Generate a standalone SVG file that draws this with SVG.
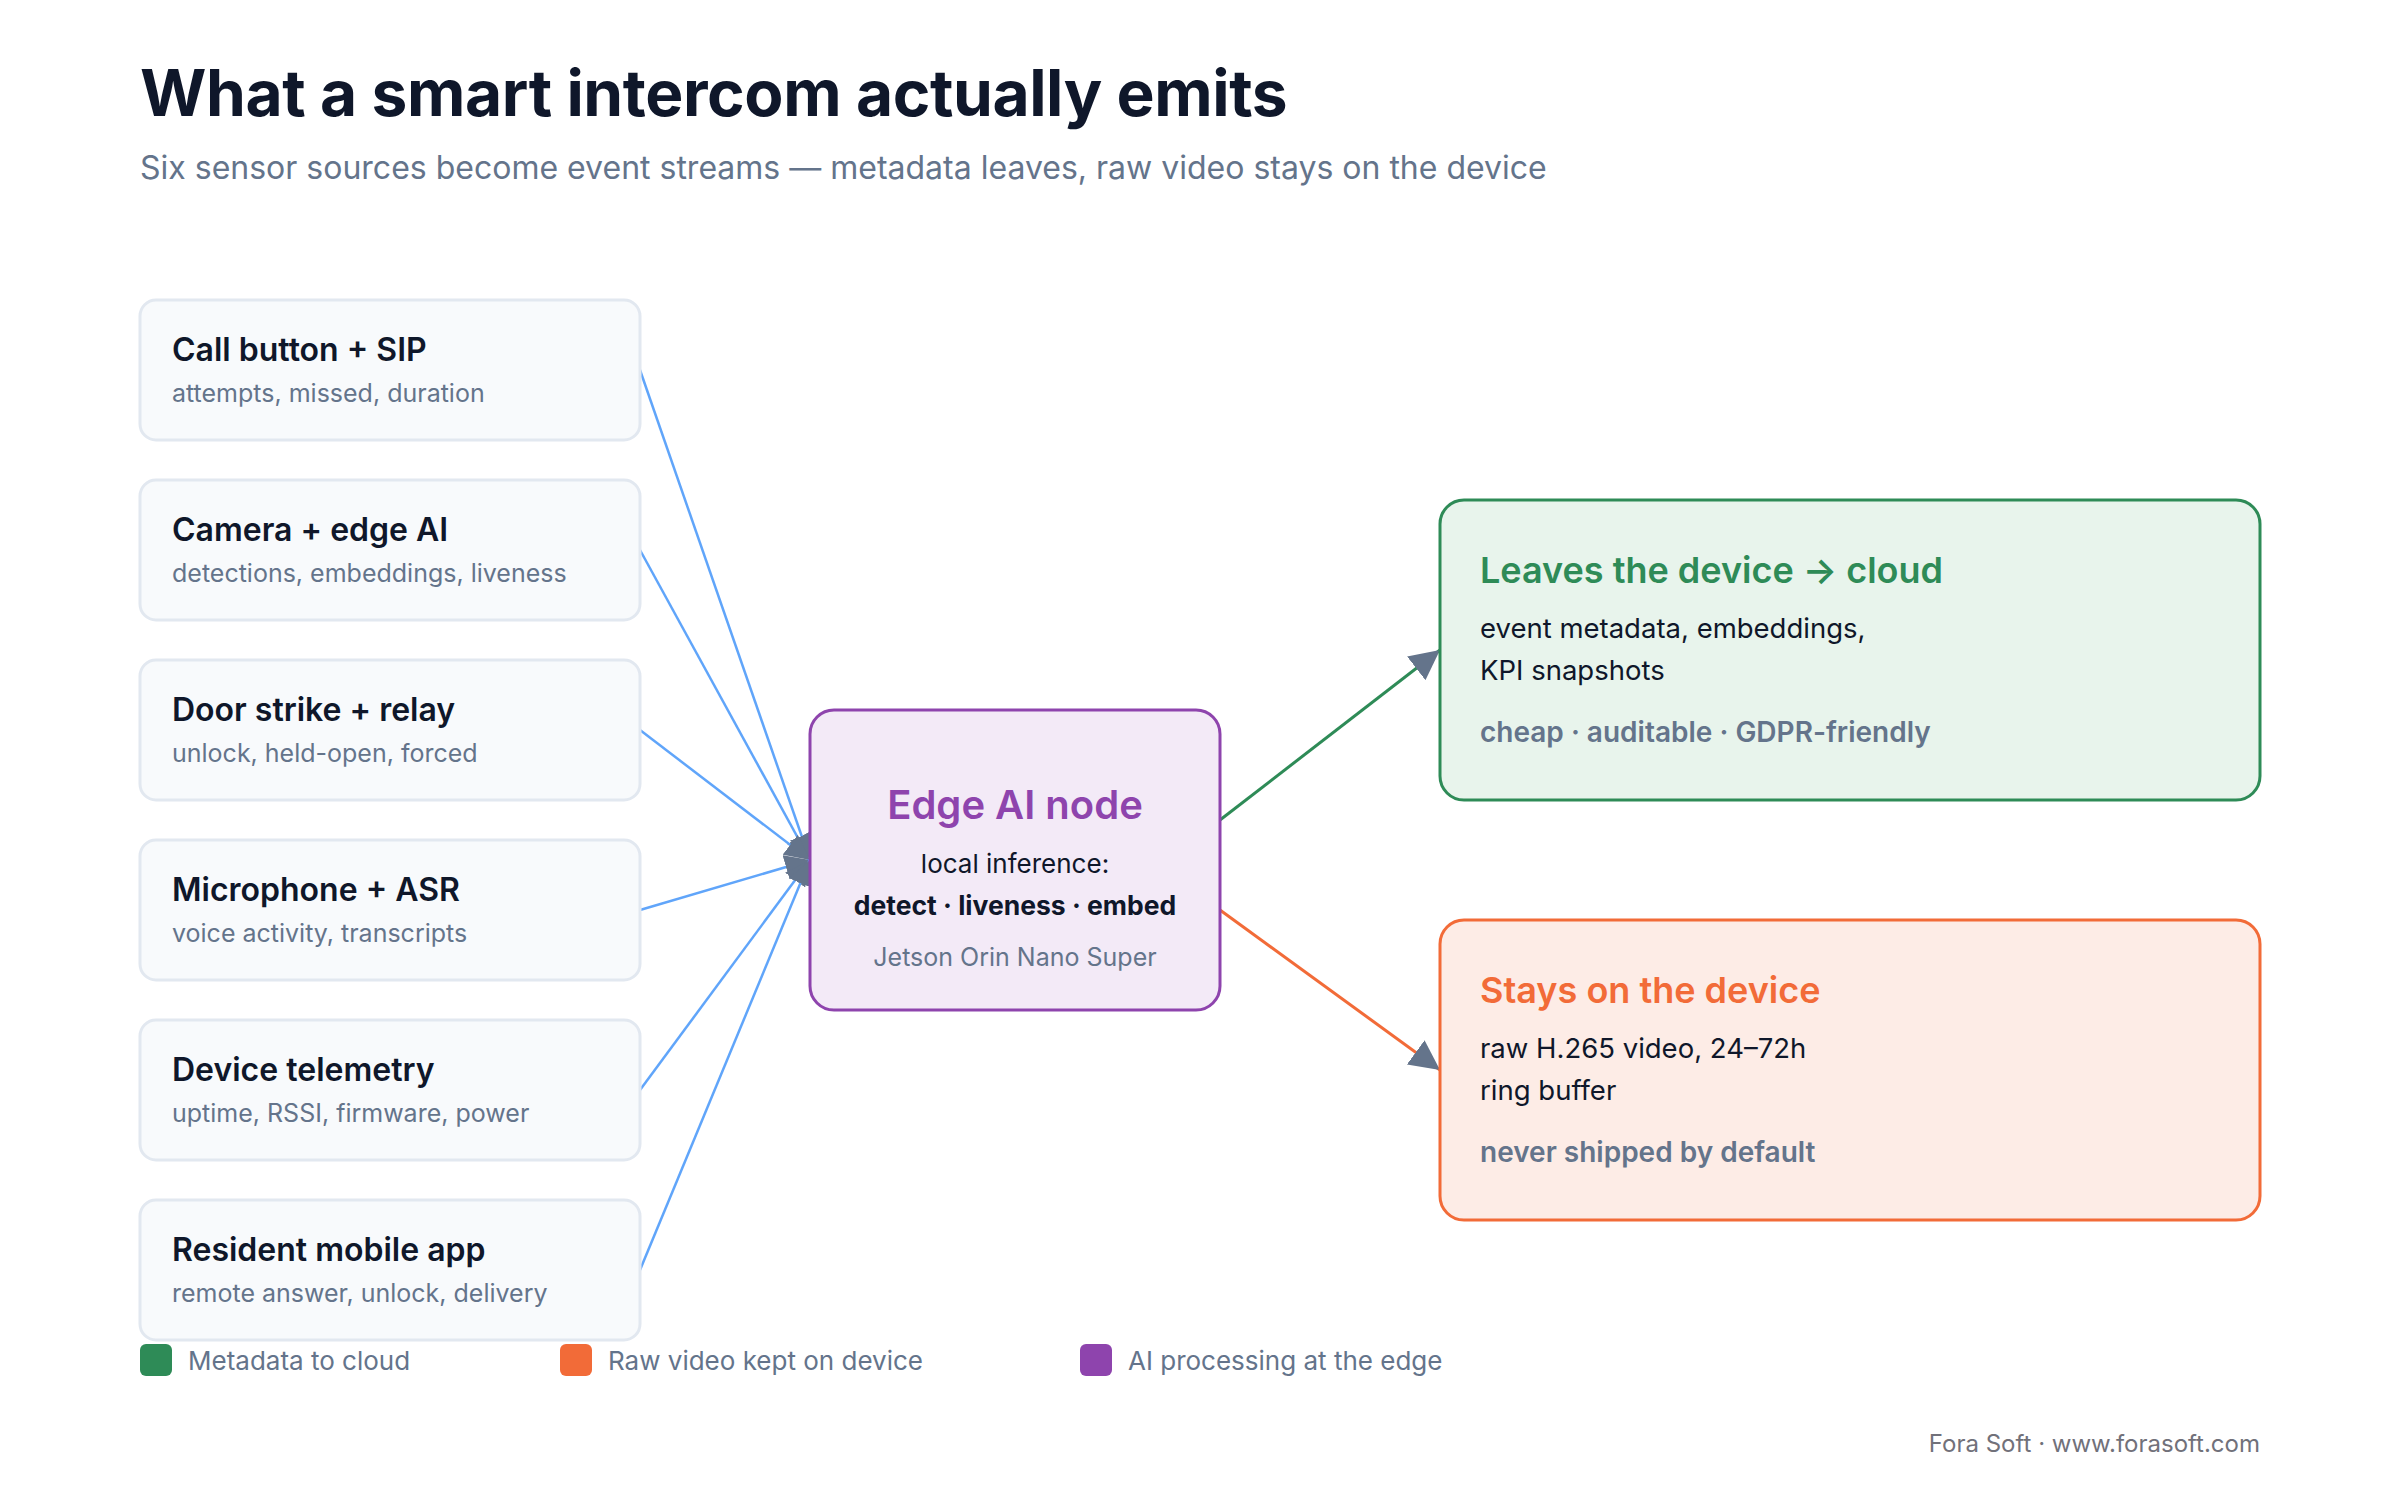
<svg xmlns="http://www.w3.org/2000/svg" width="2400" height="1496" viewBox="0 0 2400 1496">
<style>
text{font-family:Inter,"Noto Sans","Liberation Sans",sans-serif}
.title{font-size:64px;font-weight:700;fill:#0f172a;letter-spacing:-0.4px}
.subtitle{font-size:32px;fill:#64748b}
.src rect{fill:#f8fafc;stroke:#e2e8f0;stroke-width:3}
.src .h{font-size:32px;font-weight:600;fill:#0f172a}
.src .s{font-size:25px;fill:#64748b}
.edge .h{font-size:40px;font-weight:600;fill:#8e44ad}
.body{font-size:26px;fill:#0f172a}
.bodyb{font-size:26.5px;font-weight:700;fill:#0f172a}
.muted{font-size:25px;fill:#64748b}
.obody{font-size:27.5px;fill:#0f172a}
.tag{font-size:28px;font-weight:600;fill:#64748b}
.out .h{font-size:36px;font-weight:600}
.legend text{font-size:26px;fill:#64748b}
.footer{font-size:24px;fill:#71717a}
.in{stroke:#60a5fa;stroke-width:2.5;fill:none;marker-end:url(#arr)}
</style>
<defs>
<marker id="arr" viewBox="0 0 10 10" refX="10" refY="5" markerWidth="10" markerHeight="10" orient="auto" markerUnits="strokeWidth">
<path d="M0,0 L10,5 L0,10 z" fill="#64748b"/>
</marker>
</defs>
<rect width="2400" height="1496" fill="#ffffff"/>
<text class="title" x="140" y="116">What a smart intercom actually emits</text>
<text class="subtitle" x="140" y="179">Six sensor sources become event streams — metadata leaves, raw video stays on the device</text>

<g id="connectors">
<line class="in" x1="640" y1="370" x2="810" y2="860"/>
<line class="in" x1="640" y1="550" x2="810" y2="860"/>
<line class="in" x1="640" y1="730" x2="810" y2="860"/>
<line class="in" x1="640" y1="910" x2="810" y2="860"/>
<line class="in" x1="640" y1="1090" x2="810" y2="860"/>
<line class="in" x1="640" y1="1270" x2="810" y2="860"/>
<line x1="1220" y1="820" x2="1440" y2="650" stroke="#2e8b57" stroke-width="3" marker-end="url(#arr)"/>
<line x1="1220" y1="910" x2="1440" y2="1070" stroke="#f26b38" stroke-width="3" marker-end="url(#arr)"/>
</g>

<g id="src-call" class="src">
<rect x="140" y="300" width="500" height="140" rx="16"/>
<text class="h" x="172" y="361">Call button + SIP</text>
<text class="s" x="172" y="402">attempts, missed, duration</text>
</g>
<g id="src-camera" class="src">
<rect x="140" y="480" width="500" height="140" rx="16"/>
<text class="h" x="172" y="541">Camera + edge AI</text>
<text class="s" x="172" y="582">detections, embeddings, liveness</text>
</g>
<g id="src-door" class="src">
<rect x="140" y="660" width="500" height="140" rx="16"/>
<text class="h" x="172" y="721">Door strike + relay</text>
<text class="s" x="172" y="762">unlock, held-open, forced</text>
</g>
<g id="src-mic" class="src">
<rect x="140" y="840" width="500" height="140" rx="16"/>
<text class="h" x="172" y="901">Microphone + ASR</text>
<text class="s" x="172" y="942">voice activity, transcripts</text>
</g>
<g id="src-telemetry" class="src">
<rect x="140" y="1020" width="500" height="140" rx="16"/>
<text class="h" x="172" y="1081">Device telemetry</text>
<text class="s" x="172" y="1122">uptime, RSSI, firmware, power</text>
</g>
<g id="src-app" class="src">
<rect x="140" y="1200" width="500" height="140" rx="16"/>
<text class="h" x="172" y="1261">Resident mobile app</text>
<text class="s" x="172" y="1302">remote answer, unlock, delivery</text>
</g>

<g id="edge-node" class="edge">
<rect x="810" y="710" width="410" height="300" rx="24" fill="#f3eaf7" stroke="#8e44ad" stroke-width="3"/>
<text class="h" x="1015" y="819" text-anchor="middle">Edge AI node</text>
<text class="body" x="1015" y="873" text-anchor="middle">local inference:</text>
<text class="bodyb" x="1015" y="915" text-anchor="middle">detect · liveness · embed</text>
<text class="muted" x="1015" y="966" text-anchor="middle">Jetson Orin Nano Super</text>
</g>

<g id="out-cloud" class="out">
<rect x="1440" y="500" width="820" height="300" rx="24" fill="#e8f4ec" stroke="#2e8b57" stroke-width="3"/>
<text class="h" x="1480" y="583" fill="#2e8b57">Leaves the device → cloud</text>
<text class="obody" x="1480" y="638">event metadata, embeddings,</text>
<text class="obody" x="1480" y="680">KPI snapshots</text>
<text class="tag" x="1480" y="742">cheap · auditable · GDPR-friendly</text>
</g>

<g id="out-device" class="out">
<rect x="1440" y="920" width="820" height="300" rx="24" fill="#fdece6" stroke="#f26b38" stroke-width="3"/>
<text class="h" x="1480" y="1003" fill="#f26b38">Stays on the device</text>
<text class="obody" x="1480" y="1058">raw H.265 video, 24–72h</text>
<text class="obody" x="1480" y="1100">ring buffer</text>
<text class="tag" x="1480" y="1162">never shipped by default</text>
</g>

<g id="legend" class="legend">
<rect x="140" y="1344" width="32" height="32" rx="6" fill="#2e8b57"/>
<text x="188" y="1370">Metadata to cloud</text>
<rect x="560" y="1344" width="32" height="32" rx="6" fill="#f26b38"/>
<text x="608" y="1370">Raw video kept on device</text>
<rect x="1080" y="1344" width="32" height="32" rx="6" fill="#8e44ad"/>
<text x="1128" y="1370">AI processing at the edge</text>
</g>

<text class="footer" x="2260" y="1452" text-anchor="end">Fora Soft · www.forasoft.com</text>
</svg>
